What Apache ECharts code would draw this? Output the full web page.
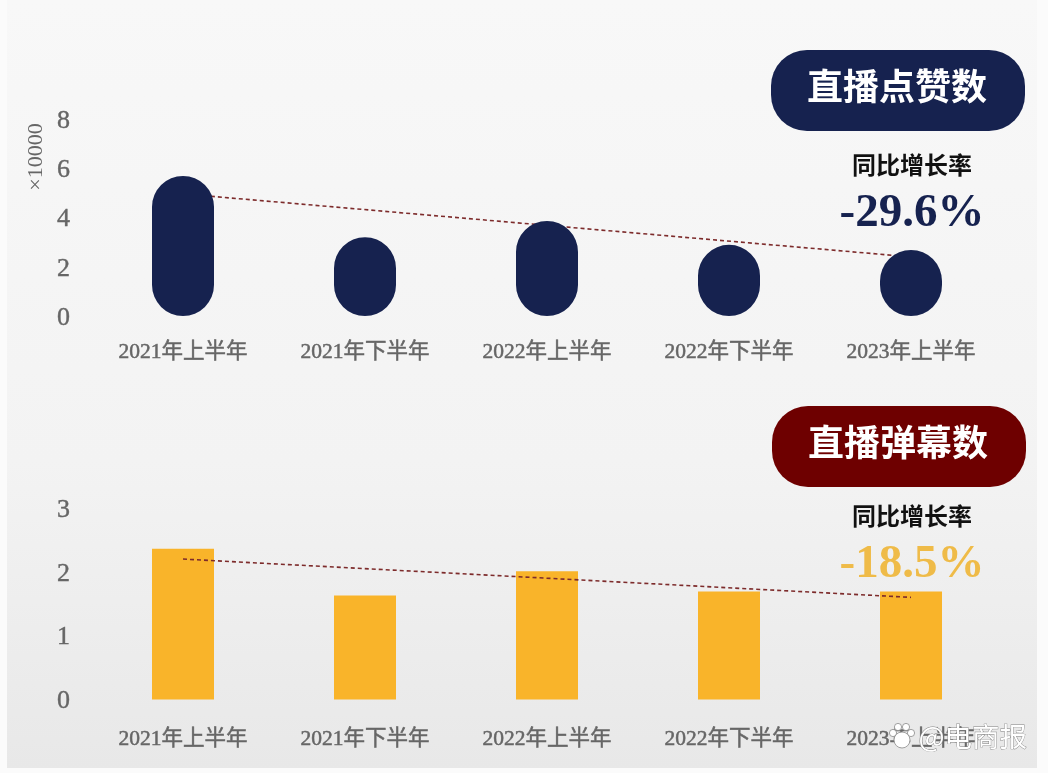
<!DOCTYPE html>
<html><head><meta charset="utf-8">
<style>html,body{margin:0;padding:0;background:#fbfbfb}
#c{width:1048px;height:773px;background:linear-gradient(180deg,#f8f8f8 0%,#f3f3f3 60%,#e8e8e8 100%) no-repeat 7px 0/1030px 768px,#fbfbfb}</style>
<script src="https://cdn.jsdelivr.net/npm/echarts@6/dist/echarts.min.js"></script>
</head><body><div id="c"></div>
<script>
const categories = ['2021年上半年','2021年下半年','2022年上半年','2022年下半年','2023年上半年'];
const likes = [5.69,3.2,3.86,2.89,2.68];
const likesTrend = [4.96,null,null,null,2.4];
const comments = [2.36,1.63,2.01,1.69,1.69];
const commentsTrend = [2.2,null,null,null,1.6];
const likesTitle = '直播点赞数', commentsTitle = '直播弹幕数';
const growthLabel = '同比增长率', likesGrowth = '-29.6%', commentsGrowth = '-18.5%';
const unitLabel = '×10000', watermark = '@电商报';

const serif = '"Liberation Serif","Noto Sans CJK SC",serif';
const navy = '#16224f', maroon = '#6e0000', amber = '#f9b42a', trendColor = '#7d2b2b';

function pill(x, y, color, label) {
  return [
    {type:'rect', shape:{x, y, width:254, height:81, r:36}, style:{fill:color}},
    {type:'text', x:x+126, y:y+41, style:{text:label, font:'bold 36px '+serif, fill:'#fff', align:'center', verticalAlign:'middle'}}
  ];
}
function growth(y, color, txt) {
  return [
    {type:'text', x:912, y:y, style:{text:growthLabel, font:'bold 24px '+serif, fill:'#111', align:'center', verticalAlign:'middle'}},
    {type:'text', x:912, y:y+46, style:{text:txt, font:'bold 47px '+serif, fill:color, align:'center', verticalAlign:'middle'}}
  ];
}
function xAxis(i, margin) {
  return {type:'category', gridIndex:i, data:categories, axisLine:{show:false}, axisTick:{show:false},
    axisLabel:{margin, fontFamily:serif, fontSize:21.5, color:'#666', textBorderColor:'#666', textBorderWidth:0.5, interval:0}};
}
function yAxis(i, max, interval) {
  return {type:'value', gridIndex:i, min:0, max, interval, splitLine:{show:false}, axisLine:{show:false}, axisTick:{show:false},
    axisLabel:{margin:22, fontFamily:serif, fontSize:26, color:'#666', textBorderColor:'#666', textBorderWidth:0.4, verticalAlign:'top', lineHeight:4}};
}
function paw(cx, cy) {
  const s = {fill:'#fff', stroke:'#8a8a8a', lineWidth:0.8};
  return [[-9,-2,3.6],[-4,-8,3.6],[4,-8,3.6],[9,-2,3.6],[0,5,8]].map(p =>
    ({type:'circle', z:20, shape:{cx:cx+p[0], cy:cy+p[1], r:p[2]}, style:s}));
}
const chart = echarts.init(document.getElementById('c'), null, {renderer:'canvas'});
chart.setOption({
  animation:false,
  backgroundColor:'transparent',
  grid:[
    {left:92, width:910, top:119, height:197},
    {left:92, width:910, top:508, height:191.5}
  ],
  xAxis:[xAxis(0,26), xAxis(1,29)],
  yAxis:[yAxis(0,8,2), yAxis(1,3,1)],
  series:[
    {type:'line', name:'点赞趋势', xAxisIndex:0, yAxisIndex:0, data:likesTrend, connectNulls:true, showSymbol:false, z:1,
      lineStyle:{color:trendColor, width:1.6, type:[4,3]}},
    {type:'bar', name:likesTitle, xAxisIndex:0, yAxisIndex:0, data:likes, barWidth:62, z:2,
      itemStyle:{color:navy, borderRadius:31}},
    {type:'bar', name:commentsTitle, xAxisIndex:1, yAxisIndex:1, data:comments, barWidth:62, z:2,
      itemStyle:{color:amber}},
    {type:'line', name:'弹幕趋势', xAxisIndex:1, yAxisIndex:1, data:commentsTrend, connectNulls:true, showSymbol:false, z:3,
      lineStyle:{color:trendColor, width:1.6, type:[4,3]}}
  ],
  graphic:[
    ...pill(771,50,navy,likesTitle),
    ...pill(772,406,maroon,commentsTitle),
    ...growth(168,navy,likesGrowth),
    ...growth(519,'#efbb48',commentsGrowth),
    {type:'text', x:36, y:157, rotation:Math.PI/2, style:{text:unitLabel, font:'22px '+serif, fill:'#666', align:'center', verticalAlign:'middle'}},
    ...paw(902,735),
    {type:'text', x:1027, y:737, z:20, style:{text:watermark, font:'27.5px "Noto Sans CJK SC",sans-serif', fill:'#fff', stroke:'#808080', lineWidth:0.8, align:'right', verticalAlign:'middle'}}
  ]
});
</script></body></html>
